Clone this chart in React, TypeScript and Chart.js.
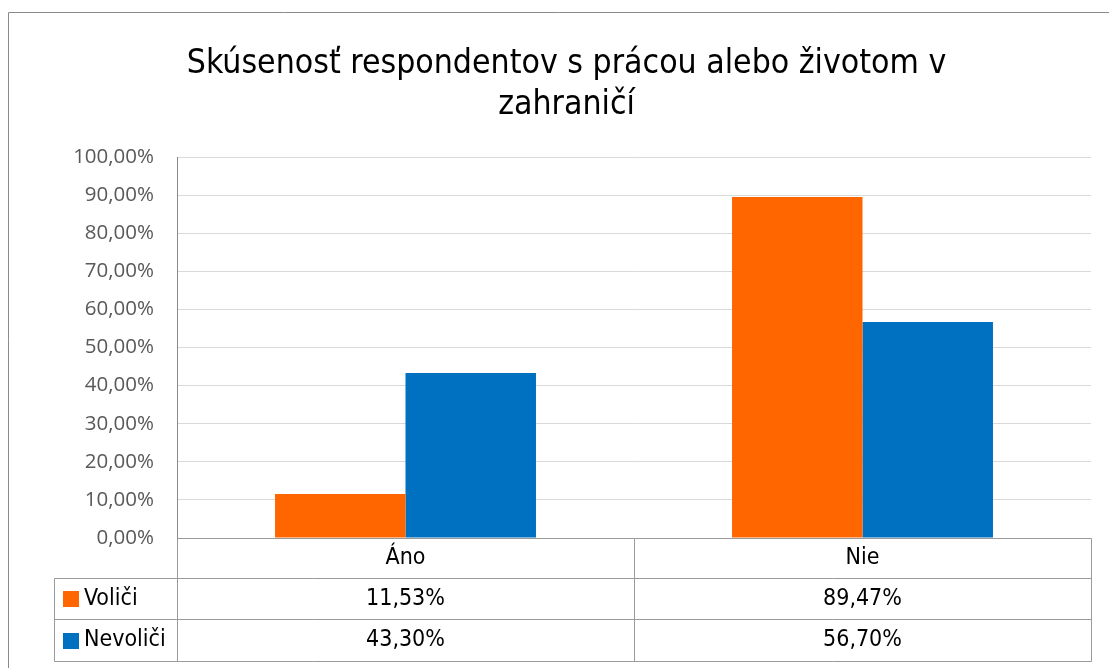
import React, { useEffect, useRef } from 'react';
import { Chart, registerables } from 'chart.js';

Chart.register(...registerables);

const TITLE_LINES = ['Skúsenosť respondentov s prácou alebo životom v', 'zahraničí'];
const CATEGORIES = ['Áno', 'Nie'];
const SERIES_NAMES = ['Voliči', 'Nevoliči'];
const VOLICI = [11.53, 89.47];
const NEVOLICI = [43.3, 56.7];
const SERIES_COLORS = ['#FF6600', '#0070C0'];
const Y_MIN = 0;
const Y_MAX = 100;
const Y_STEP = 10;

const fmt = (v: number) => v.toFixed(2).replace('.', ',') + '%';

const NARROW = "'Liberation Sans Narrow', 'DejaVu Sans Condensed', Roboto, sans-serif";
const TICK_FONT = "'Open Sans', 'Noto Sans', sans-serif";

const decorPlugin = {
  id: 'excelDecor',
  afterDraw(chart: any) {
    const ctx = chart.ctx as CanvasRenderingContext2D;
    const { left, right, bottom } = chart.chartArea;
    const xs = chart.scales.x;
    ctx.save();

    // outer chart border (top + left visible)
    ctx.strokeStyle = '#8a8a8a';
    ctx.lineWidth = 1;
    ctx.beginPath();
    ctx.moveTo(8.5, chart.height);
    ctx.lineTo(8.5, 12.5);
    ctx.lineTo(chart.width, 12.5);
    ctx.stroke();

    // title
    ctx.fillStyle = '#000000';
    ctx.font = `33.5px ${NARROW}`;
    ctx.textAlign = 'center';
    ctx.textBaseline = 'middle';
    TITLE_LINES.forEach((line, i) => ctx.fillText(line, 566.5, 64 + i * 41));

    // data table
    const y0 = Math.round(bottom) + 0.5;
    const y1 = y0 + 40;
    const y2 = y1 + 41;
    const y3 = y2 + 42;
    const L = Math.round(left) + 0.5;
    const R = Math.round(right) + 0.5;
    const legendLeft = L - 123;
    const bounds: number[] = [];
    for (let i = 1; i < CATEGORIES.length; i++) {
      bounds.push(Math.round((xs.getPixelForValue(i - 1) + xs.getPixelForValue(i)) / 2) + 0.5);
    }
    ctx.strokeStyle = '#9a9a9a';
    ctx.lineWidth = 1;
    ctx.beginPath();
    ctx.moveTo(L, y0);
    ctx.lineTo(R, y0);
    [y1, y2, y3].forEach((y) => {
      ctx.moveTo(legendLeft, y);
      ctx.lineTo(R, y);
    });
    ctx.moveTo(legendLeft, y1);
    ctx.lineTo(legendLeft, y3);
    ctx.moveTo(L, y0);
    ctx.lineTo(L, y3);
    bounds.forEach((b) => {
      ctx.moveTo(b, y0);
      ctx.lineTo(b, y3);
    });
    ctx.moveTo(R, y0);
    ctx.lineTo(R, y3);
    ctx.stroke();

    ctx.fillStyle = '#000000';
    ctx.font = `23px ${NARROW}`;
    ctx.textAlign = 'center';
    ctx.textBaseline = 'middle';
    CATEGORIES.forEach((c, i) => ctx.fillText(c, xs.getPixelForValue(i), (y0 + y1) / 2));

    const rows = [
      { name: SERIES_NAMES[0], data: VOLICI, color: SERIES_COLORS[0], top: y1, bot: y2 },
      { name: SERIES_NAMES[1], data: NEVOLICI, color: SERIES_COLORS[1], top: y2, bot: y3 },
    ];
    rows.forEach((r) => {
      const cy = (r.top + r.bot) / 2;
      ctx.fillStyle = r.color;
      ctx.fillRect(legendLeft + 8.5, Math.round(cy - 8), 16, 16);
      ctx.fillStyle = '#000000';
      ctx.textAlign = 'left';
      ctx.fillText(r.name, legendLeft + 29.5, cy);
      ctx.textAlign = 'center';
      r.data.forEach((v, i) => ctx.fillText(fmt(v), xs.getPixelForValue(i), cy));
    });

    ctx.restore();
  },
};

export default function App() {
  const ref = useRef<HTMLCanvasElement | null>(null);
  useEffect(() => {
    if (!ref.current) return;
    const chart = new Chart(ref.current, {
      type: 'bar',
      data: {
        labels: CATEGORIES,
        datasets: [
          {
            label: SERIES_NAMES[0],
            data: VOLICI,
            backgroundColor: SERIES_COLORS[0],
            barPercentage: 1,
            categoryPercentage: 0.571,
          },
          {
            label: SERIES_NAMES[1],
            data: NEVOLICI,
            backgroundColor: SERIES_COLORS[1],
            barPercentage: 1,
            categoryPercentage: 0.571,
          },
        ],
      },
      options: {
        responsive: false,
        animation: false,
        devicePixelRatio: 1,
        layout: { padding: { left: 0, right: 18, top: 157, bottom: 130 } },
        plugins: {
          legend: { display: false },
          title: { display: false },
          tooltip: { enabled: false },
        },
        scales: {
          x: { display: false, grid: { display: false } },
          y: {
            min: Y_MIN,
            max: Y_MAX,
            ticks: {
              stepSize: Y_STEP,
              callback: (v: any) => fmt(Number(v)),
              color: '#595959',
              font: { family: TICK_FONT, size: 20.5 },
              padding: 23,
            },
            grid: { color: '#d9d9d9', drawTicks: false },
            border: { display: true, color: '#8a8a8a' },
            afterFit: (s: any) => {
              s.width = 177;
            },
          },
        },
      },
      plugins: [decorPlugin],
    } as any);
    return () => chart.destroy();
  }, []);
  return (
    <div style={{ position: 'absolute', left: 0, top: 0, width: 1109, height: 668, background: '#fff' }}>
      <canvas ref={ref} width={1109} height={668} style={{ display: 'block' }} />
    </div>
  );
}
